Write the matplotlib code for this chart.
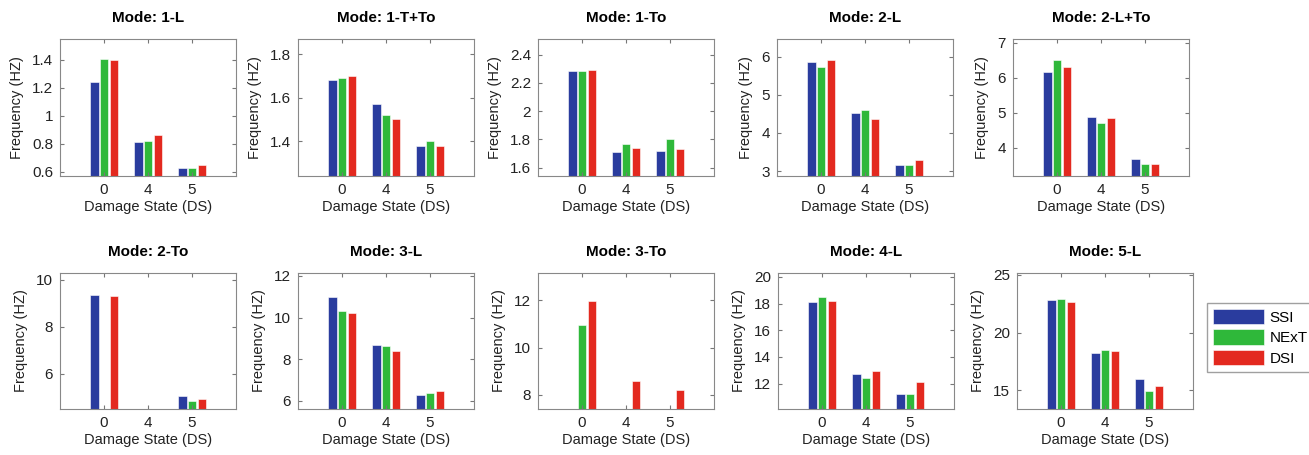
import numpy as np
import matplotlib
matplotlib.use("Agg")
import matplotlib.pyplot as plt
from matplotlib.ticker import FuncFormatter

plt.rcParams["font.family"] = ["Liberation Sans", "DejaVu Sans"]

# damage states on the x axis
states = ["0", "4", "5"]
methods = ["SSI", "NExT", "DSI"]
colors = ["#2a3c9e", "#2fb83a", "#e3291f"]

modes = ["1-L", "1-T+To", "1-To", "2-L", "2-L+To",
         "2-To", "3-L", "3-To", "4-L", "5-L"]

# frequencies per mode: [SSI, NExT, DSI] for each damage state 0, 4, 5
nan = np.nan
ssi = [
    [1.24, 0.81, 0.63],
    [1.68, 1.57, 1.38],
    [2.28, 1.71, 1.72],
    [5.85, 4.53, 3.17],
    [6.18, 4.88, 3.69],
    [9.35, nan, 5.05],
    [11.0, 8.70, 6.28],
    [nan, nan, nan],
    [18.1, 12.74, 11.19],
    [22.85, 18.2, 16.0],
]
next_ = [
    [1.41, 0.82, 0.63],
    [1.69, 1.52, 1.40],
    [2.28, 1.77, 1.80],
    [5.72, 4.60, 3.17],
    [6.50, 4.71, 3.53],
    [nan, nan, 4.85],
    [10.3, 8.64, 6.36],
    [10.97, nan, nan],
    [18.5, 12.44, 11.19],
    [22.92, 18.5, 14.96],
]
dsi = [
    [1.40, 0.86, 0.65],
    [1.70, 1.50, 1.38],
    [2.29, 1.74, 1.73],
    [5.92, 4.37, 3.28],
    [6.32, 4.84, 3.52],
    [9.28, nan, 4.93],
    [10.2, 8.38, 6.48],
    [11.97, 8.60, 8.22],
    [18.2, 12.94, 12.12],
    [22.64, 18.4, 15.4],
]

ylims = [(0.57, 1.55), (1.24, 1.87), (1.54, 2.51), (2.87, 6.46), (3.19, 7.11),
         (4.49, 10.28), (5.6, 12.14), (7.4, 13.15), (10.1, 20.3), (13.4, 25.14)]
yticks = [[0.6, 0.8, 1, 1.2, 1.4], [1.4, 1.6, 1.8], [1.6, 1.8, 2, 2.2, 2.4],
          [3, 4, 5, 6], [4, 5, 6, 7], [6, 8, 10], [6, 8, 10, 12], [8, 10, 12],
          [12, 14, 16, 18, 20], [15, 20, 25]]

fig = plt.figure(figsize=(13.09, 4.55), dpi=100)
W, H = 1309, 455
lefts_top = [60, 298, 538, 777, 1013]
lefts_bot = [60, 298, 538, 778, 1017]
aw = 176

x = np.arange(1, 4)
offsets = [-0.225, 0.0, 0.225]
bars = []
for i, mode in enumerate(modes):
    row, col = divmod(i, 5)
    if row == 0:
        left, top, bottom = lefts_top[col], 39, 176
    else:
        left, top, bottom = lefts_bot[col], 273, 409
    ax = fig.add_axes([left / W, 1 - bottom / H, aw / W, (bottom - top) / H])
    series = [ssi[i], next_[i], dsi[i]]
    bars = []
    for k in range(3):
        b = ax.bar(x + offsets[k], series[k], width=0.2, bottom=0,
                   color=colors[k], edgecolor="white", linewidth=0.4,
                   label=methods[k])
        bars.append(b)
    ax.set_xlim(0, 4)
    ax.set_ylim(*ylims[i])
    ax.set_xticks(x)
    ax.set_xticklabels(states)
    ax.set_yticks(yticks[i])
    ax.yaxis.set_major_formatter(FuncFormatter(lambda v, p: f"{v:g}"))
    ax.tick_params(direction="in", top=True, right=True, length=3, pad=5,
                   colors="#777777", labelcolor="#222222", labelsize=11)
    for s in ax.spines.values():
        s.set_color("#888888")
        s.set_linewidth(0.8)
    ax.set_title(f"Mode: {mode}", fontsize=11, fontweight="bold", pad=12)
    ax.set_xlabel("Damage State (DS)", fontsize=10.5, color="#222222", labelpad=2)
    ax.set_ylabel("Frequency (HZ)", fontsize=10.5, color="#222222", labelpad=6)

fig.legend(bars, methods, loc="upper left",
           bbox_to_anchor=(1207 / W, 1 - 303 / H), fontsize=11,
           handlelength=3.3, handleheight=1.15, labelspacing=0.3,
           borderpad=0.4, handletextpad=0.4, borderaxespad=0,
           frameon=True, fancybox=False, edgecolor="#888888")

fig.savefig("out.png", dpi=100)
